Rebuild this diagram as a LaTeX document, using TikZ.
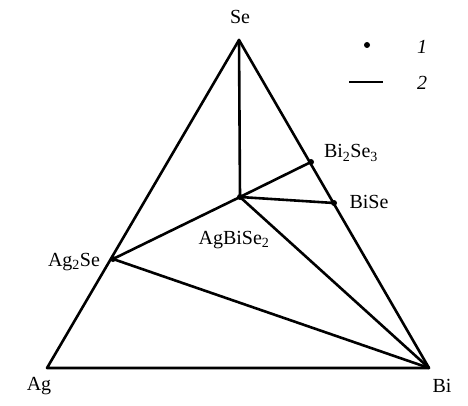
\documentclass[tikz,border=0pt]{standalone}
\usepackage{fontspec}
\setmainfont{Liberation Serif}
\begin{document}
\begin{tikzpicture}[x=1pt,y=-1pt,
  edge/.style={line width=2.6pt,line cap=round,line join=round},
  pt/.style={circle,fill=black,inner sep=0pt,minimum size=6pt},
  lbl/.style={font=\fontsize{20}{22}\selectfont,inner sep=0pt},
  leg/.style={font=\fontsize{20}{22}\selectfont\itshape,inner sep=0pt}]
\useasboundingbox (0,0) rectangle (468,406);
\coordinate (Ag) at (47,368);
\coordinate (Bi) at (429,368);
\coordinate (Se) at (239,40);
\coordinate (Ag2Se) at (113,259);
\coordinate (AgBiSe2) at (240,197);
\coordinate (Bi2Se3) at (311,162);
\coordinate (BiSe) at (334,203);
\draw[edge] (Ag) -- (Bi) -- (Se) -- cycle;
\draw[edge] (Se) -- (AgBiSe2);
\draw[edge] (AgBiSe2) -- (Bi2Se3);
\draw[edge] (AgBiSe2) -- (BiSe);
\draw[edge] (AgBiSe2) -- (Bi);
\draw[edge] (Ag2Se) -- (AgBiSe2);
\draw[edge] (Ag2Se) -- (Bi);
\foreach \p in {Ag2Se,AgBiSe2,Bi2Se3,BiSe} \node[pt] at (\p) {};
\node[lbl] (lSe) at (240,17) {Se};
\node[lbl] (lAg) at (39,386) {Ag};
\node[lbl] (lBi) at (442,386) {Bi};
\node[lbl] (lBi2Se3) at (351,153) {Bi\textsubscript{2}Se\textsubscript{3}};
\node[lbl] (lBiSe) at (369,202) {BiSe};
\node[lbl] (lAgBiSe2) at (234,240) {AgBiSe\textsubscript{2}};
\node[lbl] (lAg2Se) at (74,262) {Ag\textsubscript{2}Se};
\node[pt] (legdot) at (367,45) {};
\node[leg] (leg1) at (422,47) {1};
\coordinate (legA) at (349,82);
\coordinate (legB) at (383,82);
\draw[edge,line cap=butt] (legA) -- (legB);
\node[leg] (leg2) at (422,83) {2};
\end{tikzpicture}
\end{document}
